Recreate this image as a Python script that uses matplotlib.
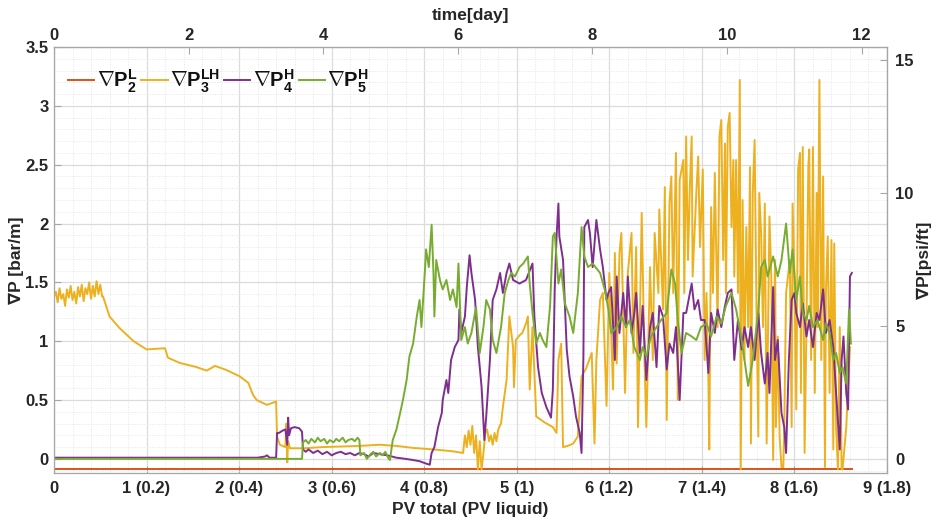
import matplotlib
matplotlib.use("Agg")
import matplotlib.pyplot as plt
from matplotlib.ticker import MultipleLocator, FuncFormatter

plt.rcParams['font.family'] = ['Liberation Sans', 'DejaVu Sans']
plt.rcParams['font.weight'] = 'bold'
plt.rcParams['mathtext.fontset'] = 'custom'
plt.rcParams['mathtext.bf'] = 'Liberation Sans:bold'
plt.rcParams['mathtext.rm'] = 'Liberation Sans:bold'
plt.rcParams['mathtext.it'] = 'Liberation Sans:bold'

# ---------------- data (PV total, gradient in bar/m) ----------------
p2_x = [0.0, 8.62]
p2_y = [-0.09, -0.09]

p3_x = [0.00, 0.02, 0.04, 0.06, 0.08, 0.10, 0.12, 0.14, 0.16, 0.18, 0.20, 0.22, 0.24,
        0.26, 0.28, 0.30, 0.32, 0.34, 0.36, 0.38, 0.40, 0.42, 0.44, 0.46, 0.48, 0.50,
        0.52, 0.53, 0.60, 0.71, 0.86, 1.00, 1.20, 1.23, 1.36, 1.54, 1.65, 1.74, 1.86,
        2.01, 2.10, 2.15, 2.19, 2.30, 2.40, 2.41, 2.44, 2.50, 2.51, 2.52, 2.53, 2.55,
        2.70, 2.90, 3.10, 3.30, 3.52, 3.70, 3.88, 4.10, 4.30, 4.42,
        4.44, 4.46, 4.48, 4.50, 4.52, 4.54, 4.56, 4.58, 4.60, 4.62, 4.64, 4.66, 4.68,
        4.70, 4.72, 4.74, 4.76, 4.78, 4.80, 4.83, 4.85, 4.89, 4.92, 4.96, 4.97, 4.99,
        5.03, 5.06, 5.10, 5.12, 5.14, 5.17, 5.21, 5.30, 5.39, 5.43, 5.45, 5.48, 5.50,
        5.55, 5.61, 5.66, 5.70, 5.75, 5.81, 5.84, 5.86,
        5.90, 5.93, 5.97, 6.00, 6.04, 6.06, 6.08, 6.11, 6.13, 6.17, 6.20, 6.24, 6.26,
        6.29, 6.31, 6.35, 6.38, 6.40, 6.44, 6.47, 6.49, 6.53, 6.54, 6.58, 6.60, 6.62,
        6.65, 6.67, 6.69, 6.72, 6.74, 6.76, 6.80, 6.81, 6.83, 6.85, 6.87, 6.89, 6.90,
        6.94, 6.96, 6.98, 7.01, 7.03, 7.05, 7.07, 7.08, 7.10, 7.12, 7.14, 7.17, 7.19,
        7.21, 7.23, 7.25, 7.26, 7.28, 7.30, 7.32, 7.34, 7.35, 7.37, 7.39, 7.41, 7.42,
        7.44, 7.46, 7.48, 7.50, 7.52, 7.53, 7.55, 7.57, 7.59, 7.61, 7.62, 7.64, 7.66,
        7.68, 7.70, 7.73, 7.75, 7.77, 7.79, 7.80, 7.82, 7.84, 7.86, 7.88, 7.89, 7.91,
        7.95, 7.97, 7.98, 8.00, 8.02, 8.04, 8.06, 8.07, 8.09, 8.11, 8.13, 8.15, 8.16,
        8.18, 8.20, 8.22, 8.24, 8.25, 8.27, 8.29, 8.31, 8.33, 8.34, 8.36, 8.38, 8.40,
        8.42, 8.43, 8.45, 8.47, 8.49, 8.51, 8.52, 8.56, 8.60]
p3_y = [1.38, 1.42, 1.33, 1.45, 1.36, 1.40, 1.30, 1.44, 1.37, 1.47, 1.35, 1.42, 1.32,
        1.46, 1.38, 1.48, 1.34, 1.45, 1.40, 1.50, 1.36, 1.47, 1.38, 1.51, 1.40, 1.48,
        1.38, 1.38, 1.21, 1.11, 1.00, 0.93, 0.94, 0.86, 0.815, 0.78, 0.75, 0.79, 0.756,
        0.70, 0.645, 0.544, 0.50, 0.459, 0.487, 0.19, 0.12, 0.10, 0.30, -0.03, 0.15, 0.09,
        0.09, 0.10, 0.105, 0.11, 0.12, 0.11, 0.093, 0.08, 0.065, 0.05,
        0.20, 0.10, 0.24, 0.12, 0.28, 0.05, 0.20, -0.09, 0.15, -0.09, 0.05, 0.22, 0.25,
        0.15, 0.20, 0.12, 0.22, 0.15, 0.25, 0.30, 0.44, 0.67, 1.21, 0.95, 0.61, 1.01,
        1.05, 1.07, 1.15, 1.21, 0.59, 1.12, 0.36, 0.31, 0.27, 0.22, 0.84, 0.98, 0.10,
        0.11, 0.13, 0.19, 0.70, 0.77, 0.90, 0.13, 0.84,
        1.35, 1.41, 0.45, 1.58, 0.59, 1.75, 0.81, 1.75, 1.92, 0.56, 1.58, 1.92, 0.90,
        1.80, 0.27, 2.09, 0.84, 0.27, 1.63, 0.84, 1.92, 1.41, 2.12, 1.27, 2.31, 0.33,
        2.17, 2.40, 1.41, 2.60, 0.50, 2.37, 2.54, 1.41, 2.74, 1.69, 2.31, 2.74, 1.55,
        2.26, 2.57, 1.80, 2.46, 0.84, 1.41, 0.70, 0.08, 2.14, 1.41, 2.43, 1.12, 2.74,
        2.88, 1.69, 2.68, 1.41, 2.82, 2.94, 1.97, 2.54, 1.55, 2.54, 1.41, 3.22, -0.09,
        2.20, 0.84, 1.97, 1.12, 2.48, 0.13, 2.26, 2.71, 1.27, 0.19, 2.26, 1.92, 1.12,
        2.17, 0.13, 2.06, 1.55, -0.01, 1.69, 0.27, 1.04, 0.19, -0.07, -0.07, 0.27, 1.41,
        1.69, 0.27, 2.17, 1.55, 0.42, 2.46, 2.60, 0.56, 2.65, 0.05, 1.12, 2.48, 2.63,
        0.84, 2.65, 0.56, 2.26, 1.12, 3.22, 0.84, 2.40, -0.07, 1.41, 1.89, 0.56, 1.86,
        0.08, 1.83, 0.27, -0.09, 1.12, -0.09, -0.09, 0.27, 0.95]

p4_x = [0.00, 2.20, 2.28, 2.30, 2.33, 2.40, 2.41, 2.43, 2.47, 2.50, 2.52, 2.53, 2.54,
        2.56, 2.60, 2.65, 2.68, 2.69, 2.72, 2.75, 2.80, 2.85, 2.90, 2.95, 3.00, 3.05,
        3.10, 3.15, 3.20, 3.25, 3.30, 3.35, 3.40, 3.45, 3.52, 3.60, 3.70, 3.80, 3.88,
        3.95, 4.02, 4.06, 4.08, 4.11, 4.15, 4.19, 4.20, 4.24, 4.26, 4.29, 4.33, 4.37,
        4.38, 4.40, 4.44, 4.46, 4.49, 4.51, 4.55, 4.58, 4.62, 4.65, 4.67, 4.71, 4.74,
        4.78, 4.82, 4.85, 4.89, 4.92, 4.96, 5.03, 5.10, 5.17, 5.19, 5.23, 5.27, 5.32,
        5.37, 5.39, 5.41, 5.43, 5.45, 5.46, 5.50, 5.54, 5.57, 5.61, 5.64, 5.68, 5.70,
        5.72, 5.73, 5.77, 5.79, 5.82, 5.86, 5.90, 5.93, 5.97, 5.99, 6.02, 6.06, 6.08,
        6.11, 6.15, 6.18, 6.20, 6.24, 6.27, 6.29, 6.33, 6.36, 6.40, 6.44, 6.47, 6.51,
        6.54, 6.58, 6.62, 6.65, 6.69, 6.72, 6.76, 6.80, 6.83, 6.89, 6.92, 6.96, 6.99,
        7.03, 7.07, 7.10, 7.14, 7.17, 7.21, 7.25, 7.28, 7.32, 7.35, 7.39, 7.43, 7.46,
        7.50, 7.53, 7.57, 7.61, 7.64, 7.68, 7.71, 7.73, 7.77, 7.79, 7.82, 7.86, 7.89,
        7.91, 7.94, 7.97, 8.00, 8.02, 8.06, 8.09, 8.13, 8.16, 8.20, 8.24, 8.27, 8.31,
        8.34, 8.38, 8.42, 8.45, 8.49, 8.51, 8.53, 8.56, 8.58, 8.60, 8.62]
p4_y = [0.01, 0.01, 0.02, 0.03, 0.01, 0.01, 0.22, 0.22, 0.24, 0.25, 0.12, 0.35, 0.20,
        0.26, 0.27, 0.26, 0.23, 0.08, 0.06, 0.08, 0.05, 0.07, 0.04, 0.06, 0.03, 0.05,
        0.06, 0.04, 0.05, 0.03, 0.05, 0.04, 0.02, 0.05, 0.04, 0.03, 0.01, 0.00, -0.01,
        -0.02, -0.04, -0.05, 0.05, 0.10, 0.27, 0.39, 0.50, 0.67, 0.56, 0.84, 0.95, 1.01,
        1.27, 1.07, 1.21, 1.46, 1.73, 1.58, 1.35, 0.95, 0.61, 0.16, 0.36, 0.84, 1.35,
        1.44, 1.58, 1.41, 1.58, 1.66, 1.52, 1.49, 1.52, 1.66, 1.21, 0.78, 0.56, 0.44,
        0.35, 0.59, 1.44, 1.89, 2.17, 1.89, 1.69, 0.93, 0.70, 0.53, 0.36, 0.22, 0.05,
        0.87, 1.97, 2.03, 1.92, 1.63, 2.03, 1.78, 1.63, 1.35, 1.41, 1.46, 0.84, 1.55,
        1.07, 1.41, 1.12, 1.55, 1.07, 1.24, 1.41, 0.90, 1.30, 0.67, 1.12, 1.24, 0.78,
        1.30, 1.21, 0.76, 0.98, 0.90, 1.12, 0.50, 1.24, 1.24, 1.49, 1.27, 1.35, 1.18,
        1.18, 0.73, 1.24, 1.07, 1.27, 1.12, 1.30, 1.41, 1.44, 0.84, 1.18, 0.93, 1.12,
        0.95, 1.12, 0.84, 1.24, 0.90, 0.64, 0.90, 0.56, 1.46, 0.84, 1.01, 0.39, 0.27,
        0.05, 0.84, 1.35, 1.41, 1.24, 1.12, 1.32, 1.04, 1.18, 0.95, 1.24, 1.18, 1.44,
        1.07, 1.18, 0.95, 0.56, 0.08, 0.84, 1.04, 0.56, 0.42, 1.55, 1.58]

p5_x = [0.00, 2.68, 2.69, 2.72, 2.75, 2.78, 2.82, 2.85, 2.88, 2.92, 2.95, 2.98, 3.02,
        3.05, 3.08, 3.12, 3.15, 3.18, 3.22, 3.25, 3.28, 3.30, 3.31, 3.35, 3.38, 3.42,
        3.45, 3.48, 3.52, 3.55, 3.58, 3.61, 3.63, 3.66, 3.70, 3.74, 3.77, 3.81, 3.84,
        3.88, 3.92, 3.95, 3.97, 4.01, 4.02, 4.05, 4.08, 4.10, 4.11, 4.13, 4.17, 4.20,
        4.24, 4.28, 4.31, 4.35, 4.37, 4.40, 4.44, 4.47, 4.51, 4.56, 4.60, 4.64, 4.67,
        4.71, 4.74, 4.78, 4.83, 4.87, 4.91, 4.94, 4.98, 5.03, 5.07, 5.12, 5.14, 5.17,
        5.21, 5.25, 5.28, 5.32, 5.36, 5.39, 5.41, 5.45, 5.48, 5.52, 5.57, 5.61, 5.66,
        5.70, 5.73, 5.77, 5.82, 5.90, 5.95, 5.99, 6.02, 6.08, 6.13, 6.18, 6.22, 6.27,
        6.33, 6.36, 6.40, 6.45, 6.51, 6.56, 6.62, 6.67, 6.71, 6.74, 6.78, 6.83, 6.89,
        6.94, 6.99, 7.05, 7.10, 7.16, 7.21, 7.26, 7.32, 7.37, 7.43, 7.46, 7.50, 7.55,
        7.61, 7.64, 7.68, 7.71, 7.77, 7.82, 7.86, 7.91, 7.95, 7.98, 8.02, 8.06, 8.09,
        8.13, 8.16, 8.20, 8.25, 8.31, 8.34, 8.38, 8.42, 8.45, 8.49, 8.52, 8.56, 8.59,
        8.61]
p5_y = [0.00, 0.00, 0.14, 0.16, 0.13, 0.17, 0.14, 0.18, 0.15, 0.17, 0.13, 0.16, 0.14,
        0.17, 0.15, 0.18, 0.14, 0.16, 0.17, 0.15, 0.18, 0.16, 0.03, 0.05, 0.00, 0.04,
        0.06, 0.02, 0.05, 0.03, 0.06, 0.01, -0.01, 0.16, 0.25, 0.39, 0.50, 0.67, 0.87,
        0.98, 1.21, 1.35, 1.12, 1.63, 1.78, 1.63, 1.99, 1.58, 1.21, 1.69, 1.52, 1.44,
        1.52, 1.35, 1.44, 1.29, 1.66, 1.01, 1.12, 0.98, 1.07, 1.29, 0.90, 1.12, 1.35,
        1.27, 1.01, 0.90, 1.12, 1.41, 1.52, 1.58, 1.55, 1.63, 1.66, 1.72, 1.49, 1.24,
        0.98, 1.07, 1.01, 0.95, 1.30, 1.89, 1.92, 1.49, 1.61, 1.32, 1.21, 1.07, 1.41,
        1.97, 1.72, 1.63, 1.66, 1.58, 1.44, 1.27, 1.07, 1.12, 1.21, 1.12, 1.18, 0.95,
        0.84, 0.95, 0.87, 1.04, 1.12, 1.18, 1.24, 1.61, 1.49, 1.18, 0.90, 1.07, 1.04,
        1.01, 1.12, 1.15, 1.04, 1.21, 1.15, 1.30, 1.41, 1.27, 1.01, 0.84, 0.62, 0.84,
        1.27, 1.63, 1.69, 1.55, 1.72, 1.55, 1.69, 2.00, 1.58, 1.78, 1.35, 1.55, 1.24,
        1.18, 1.30, 1.12, 1.18, 1.01, 1.15, 1.07, 0.84, 0.90, 0.73, 0.78, 0.64, 1.27,
        0.98]

labels = [r'$\mathbf{\nabla P_2^L}$', r'$\mathbf{\nabla P_3^{LH}}$',
          r'$\mathbf{\nabla P_4^H}$', r'$\mathbf{\nabla P_5^H}$']
colors = ['#D95319', '#EDB120', '#7E2F8E', '#77AC30']

bottom_ticks = [0, 1, 2, 3, 4, 5, 6, 7, 8, 9]
bottom_labels = ['0', '1 (0.2)', '2 (0.4)', '3 (0.6)', '4 (0.8)', '5 (1)',
                 '6 (1.2)', '7 (1.4)', '8 (1.6)', '9 (1.8)']
day_ticks = [0, 2, 4, 6, 8, 10, 12]
psi_ticks = [0, 5, 10, 15]
PV_PER_DAY = 0.7272
PSIFT_PER_BARM = 4.4208

# ---------------- figure ----------------
fig = plt.figure(figsize=(9.39, 5.26), dpi=100)
ax = fig.add_axes([0.0575, 0.1008, 0.8871, 0.8098])

txt = '#262626'
spine_c = '#a6a6a6'

for xs, ys, c, lab in zip([p2_x, p3_x, p4_x, p5_x], [p2_y, p3_y, p4_y, p5_y], colors, labels):
    ax.plot(xs, ys, color=c, lw=1.4, label=lab)

ax.set_xlim(0, 9)
ax.set_ylim(-0.12, 3.5)
ax.set_xticks(bottom_ticks)
ax.set_xticklabels(bottom_labels)
ax.yaxis.set_major_locator(MultipleLocator(0.5))
ax.yaxis.set_major_formatter(FuncFormatter(lambda v, p: f'{v:g}'))
ax.xaxis.set_minor_locator(MultipleLocator(0.2))
ax.yaxis.set_minor_locator(MultipleLocator(0.1))
ax.grid(which='major', color='#dcdcdc', lw=0.9, ls='-')
ax.grid(which='minor', color='#e6e6e6', lw=0.7, ls=(0, (1, 1.5)))
ax.set_axisbelow(True)
ax.tick_params(which='major', direction='in', length=5, width=0.8, colors=spine_c,
               labelcolor=txt, labelsize=12, pad=6)
ax.tick_params(axis='y', which='major', pad=4)
ax.tick_params(which='minor', length=0)
ax.tick_params(axis='y', left=True, right=False)
ax.tick_params(axis='x', bottom=True, top=False)
for s in ax.spines.values():
    s.set_color(spine_c)
    s.set_linewidth(0.9)
for lab in ax.get_xticklabels() + ax.get_yticklabels():
    lab.set_fontweight('bold')

ax.set_xlabel('PV total (PV liquid)', fontsize=12.5, fontweight='bold', color=txt, labelpad=4)
ax.set_ylabel('∇P [bar/m]', fontsize=12.5, fontweight='bold', color=txt)
ax.yaxis.set_label_coords(-0.036, 0.5)

secx = ax.secondary_xaxis('top', functions=(lambda p: p / PV_PER_DAY, lambda d: d * PV_PER_DAY))
secx.set_xticks(day_ticks)
secx.tick_params(direction='in', length=5, width=0.8, colors=spine_c, labelcolor=txt,
                 labelsize=12, pad=3)
secx.set_xlabel('time[day]', fontsize=12.5, fontweight='bold', color=txt, labelpad=6)
for lab in secx.get_xticklabels():
    lab.set_fontweight('bold')
secx.spines['top'].set_color(spine_c)

secy = ax.secondary_yaxis('right', functions=(lambda v: v * PSIFT_PER_BARM, lambda v: v / PSIFT_PER_BARM))
secy.set_yticks(psi_ticks)
secy.tick_params(direction='in', length=5, width=0.8, colors=spine_c, labelcolor=txt,
                 labelsize=12, pad=6)
secy.set_ylabel('∇P[psi/ft]', fontsize=12.5, fontweight='bold', color=txt, labelpad=2)
for lab in secy.get_yticklabels():
    lab.set_fontweight('bold')
secy.spines['right'].set_color(spine_c)

leg = ax.legend(loc='upper left', ncol=4, frameon=False, fontsize=14.5,
                handlelength=1.3, handletextpad=0.12, columnspacing=0.2,
                bbox_to_anchor=(0.0, 0.985), borderaxespad=0.3)
for t in leg.get_texts():
    t.set_color('#111111')

fig.savefig('out.png', dpi=100)
